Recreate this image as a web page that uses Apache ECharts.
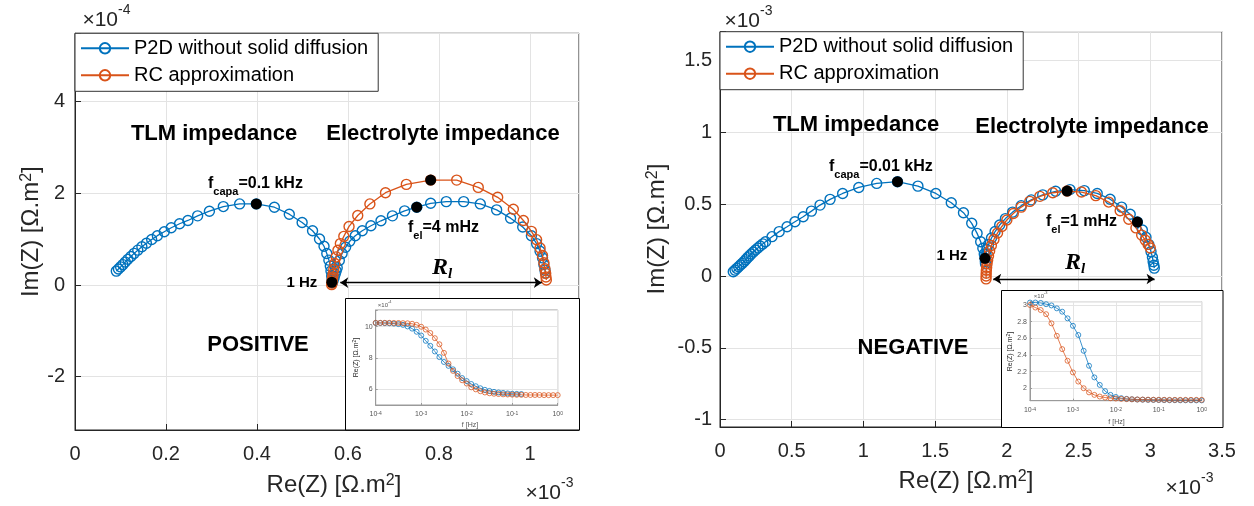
<!DOCTYPE html>
<html>
<head>
<meta charset="utf-8">
<script src="https://cdn.jsdelivr.net/npm/echarts@6/dist/echarts.min.js"></script>
<style>
html,body{margin:0;padding:0;background:#fff;}
#chart{width:1254px;height:506px;}
</style>
</head>
<body>
<div id="chart"></div>
<script>
// ---------- Nyquist data, positive electrode (Re in 1e-3 Ω.m², Im in 1e-4 Ω.m²) ----------
const posP2dRe = [0.0908,0.0955,0.1003,0.1052,0.1105,0.1163,0.1228,0.1300,0.1380,0.1470,0.1570,0.1685,0.1810,0.1962,0.2115,0.2298,0.2481,0.2695,0.2954,0.3260,0.3618,0.3985,0.4382,0.4710,0.4992,0.5221,0.5374,0.5473,0.5534,0.5580,0.5611,0.5626,0.5641,0.5649,0.5655,
  0.5672,0.5695,0.5718,0.5740,0.5763,0.5809,0.5870,0.5947,0.6038,0.6160,0.6313,0.6504,0.6725,0.6977,0.7244,0.7511,0.7817,0.8160,0.8542,0.8908,0.9267,0.9573,0.9840,1.0031,1.0145,1.0221,1.0275,1.0305,1.0328,1.0340];
const posP2dIm = [0.303,0.348,0.395,0.445,0.500,0.560,0.622,0.690,0.760,0.835,0.912,0.992,1.076,1.162,1.249,1.336,1.408,1.509,1.610,1.711,1.769,1.769,1.697,1.545,1.365,1.184,1.004,0.845,0.686,0.542,0.412,0.303,0.195,0.110,0.050,
  0.100,0.165,0.235,0.305,0.375,0.534,0.686,0.823,0.953,1.076,1.184,1.292,1.401,1.509,1.617,1.697,1.783,1.819,1.819,1.769,1.639,1.458,1.264,1.076,0.903,0.736,0.592,0.448,0.325,0.260];
const posRcRe = [0.5641,0.5646,0.5651,0.5656,0.5664,0.5672,0.5687,0.5710,0.5740,0.5779,0.5832,0.5908,0.6023,0.6214,0.6481,0.6824,0.7282,0.7817,0.8389,0.8863,0.9290,0.9634,0.9855,1.0031,1.0145,1.0221,1.0275,1.0305,1.0328,1.0344,1.0351,1.0359];
const posRcIm = [0.007,0.040,0.075,0.120,0.175,0.235,0.339,0.469,0.614,0.758,0.903,1.061,1.278,1.516,1.769,2.014,2.195,2.289,2.289,2.130,1.913,1.653,1.408,1.170,0.989,0.809,0.643,0.484,0.354,0.253,0.173,0.108];
// highlighted frequencies: f_capa, 1 Hz, f_el, RC apex
const posMarkRe = [0.3985, 0.5645, 0.7511, 0.7817];
const posMarkIm = [1.769, 0.060, 1.697, 2.289];
// electrolyte resistance span R_l
const posRlRe = [0.583, 1.026];
const posRlIm = [0.05, 0.05];

// ---------- Nyquist data, negative electrode (Re and Im in 1e-3 Ω.m²) ----------
const negP2dRe = [0.0925,0.1050,0.1175,0.1300,0.1425,0.1550,0.1675,0.1800,0.1925,0.2050,0.2175,0.2325,0.2475,0.2640,0.2800,0.2990,0.3175,0.3625,0.4125,0.4675,0.5225,0.5800,0.6375,0.6975,0.7675,0.8550,0.9675,1.0925,1.2375,1.3800,1.5050,1.6125,1.6975,1.7550,1.7925,1.8175,1.8325,1.8425,1.8475,1.8500,1.8510,
  1.8550,1.8600,1.8720,1.8930,1.9180,1.9500,1.9900,2.0400,2.1000,2.1700,2.2500,2.3400,2.4400,2.5400,2.6300,2.7200,2.8000,2.8600,2.9100,2.9450,2.9700,2.9900,3.0050,3.0150,3.0200,3.0250,3.0280];
const negP2dIm = [0.030,0.041,0.053,0.065,0.077,0.088,0.100,0.114,0.128,0.140,0.153,0.167,0.181,0.195,0.209,0.224,0.239,0.274,0.309,0.343,0.378,0.413,0.452,0.494,0.534,0.575,0.617,0.645,0.657,0.626,0.575,0.510,0.441,0.367,0.297,0.239,0.193,0.153,0.123,0.100,0.085,
  0.150,0.185,0.220,0.265,0.310,0.355,0.400,0.445,0.490,0.530,0.565,0.590,0.602,0.595,0.575,0.535,0.480,0.430,0.376,0.320,0.270,0.220,0.170,0.130,0.100,0.075,0.055];
const negRcRe = [1.8550,1.8555,1.8560,1.8570,1.8590,1.8620,1.8660,1.8720,1.8800,1.8920,1.9100,1.9350,1.9650,2.0000,2.0450,2.1000,2.1600,2.2300,2.3200,2.4200,2.5200,2.6200,2.7100,2.7900,2.8500,2.9000,2.9400,2.9650,2.9850,3.0000];
const negRcIm = [-0.020,0.000,0.020,0.040,0.060,0.085,0.110,0.140,0.175,0.212,0.255,0.300,0.345,0.390,0.435,0.480,0.520,0.555,0.580,0.592,0.585,0.560,0.515,0.455,0.395,0.335,0.285,0.250,0.220,0.195];
const negMarkRe = [1.2375, 1.8475, 2.9100, 2.4200];
const negMarkIm = [0.657, 0.123, 0.376, 0.592];
const negRlRe = [1.905, 3.030];
const negRlIm = [-0.021, -0.021];

// ---------- Re(Z) versus frequency (insets) ----------
const posFreq = [0.0001,0.0001259,0.0001585,0.0001995,0.0002512,0.0003162,0.0003981,0.0005012,0.000631,0.0007943,
  0.001,0.001259,0.001585,0.001995,0.002512,0.003162,0.003981,0.005012,0.00631,0.007943,
  0.01,0.01259,0.01585,0.01995,0.02512,0.03162,0.03981,0.05012,0.0631,0.07943,
  0.1,0.1259,0.1585,0.1995,0.2512,0.3162,0.3981,0.5012,0.631,0.7943,1];
// Re(Z) in 1e-4 Ω.m²
const posReP2d = [10.24,10.24,10.23,10.22,10.20,10.17,10.12,10.02,9.88,9.68,
  9.44,9.10,8.78,8.42,8.06,7.75,7.50,7.28,7.00,6.72,
  6.53,6.34,6.20,6.07,5.97,5.90,5.84,5.80,5.77,5.74,
  5.72,5.71,5.70];
const posReRc = [10.25,10.25,10.25,10.25,10.24,10.24,10.23,10.22,10.19,10.12,
  10.00,9.82,9.60,9.27,8.88,8.33,7.65,7.18,6.85,6.58,
  6.37,6.13,6.00,5.88,5.80,5.75,5.72,5.70,5.68,5.67,
  5.66,5.65,5.65,5.64,5.64,5.64,5.64,5.63,5.63,5.63,5.63];

const negFreq = [0.0001,0.0001334,0.0001778,0.0002371,0.0003162,0.0004217,0.0005623,0.0007499,
  0.001,0.001334,0.001778,0.002371,0.003162,0.004217,0.005623,0.007499,
  0.01,0.01334,0.01778,0.02371,0.03162,0.04217,0.05623,0.07499,
  0.1,0.1334,0.1778,0.2371,0.3162,0.4217,0.5623,0.7499,1];
// Re(Z) in 1e-3 Ω.m²
const negReP2d = [3.030,3.030,3.025,3.010,2.995,2.960,2.920,2.840,
  2.750,2.640,2.450,2.270,2.130,2.040,1.965,1.920,
  1.895,1.880,1.872,1.867,1.864,1.862,1.860,1.859,
  1.858,1.857,1.856,1.856,1.855,1.855,1.855,1.854,1.854];
const negReRc = [3.000,2.970,2.940,2.890,2.780,2.630,2.470,2.330,
  2.190,2.080,2.000,1.950,1.920,1.900,1.888,1.880,
  1.876,1.872,1.869,1.867,1.865,1.864,1.863,1.862,
  1.861,1.861,1.860,1.860,1.860,1.860,1.860,1.860,1.860];

// minor grid positions of the log frequency axes
const minorFreq = [2e-4,3e-4,4e-4,5e-4,6e-4,7e-4,8e-4,9e-4,
  2e-3,3e-3,4e-3,5e-3,6e-3,7e-3,8e-3,9e-3,
  2e-2,3e-2,4e-2,5e-2,6e-2,7e-2,8e-2,9e-2,
  2e-1,3e-1,4e-1,5e-1,6e-1,7e-1,8e-1,9e-1];

const NAME_P2D = 'P2D without solid diffusion';
const NAME_RC = 'RC approximation';

// ---------- styling ----------
const BLUE = '#0072BD', ORANGE = '#D95319', INK = '#262626';
const FONT = '"Liberation Sans", Arial, Helvetica, sans-serif';
const SERIF = '"Liberation Serif", "DejaVu Serif", serif';

function zip(a, b) { return a.map((v, i) => [v, b[i]]); }
function onStep(step) {
  return function (v) {
    const k = v / step;
    if (Math.abs(k - Math.round(k)) > 1e-6) return '';
    return String(+(Math.round(k) * step).toFixed(4));
  };
}
function decade(v) {
  const l = Math.log10(v), e = Math.round(l);
  if (Math.abs(l - e) > 1e-6) return '';
  return '{b|10}{s|' + e + '}';
}

function mainAxis(gridIndex, extra) {
  return Object.assign({
    type: 'value', gridIndex: gridIndex, z: 1,
    axisLine: { show: true, onZero: false, lineStyle: { color: INK, width: 1 } },
    axisTick: { show: true, inside: true, length: 6, lineStyle: { color: INK } },
    splitLine: { show: true, lineStyle: { color: '#e3e3e3', width: 1 } },
    axisLabel: { color: INK, fontSize: 20, fontFamily: FONT }
  }, extra);
}
function insetAxis(gridIndex, extra) {
  return Object.assign({
    gridIndex: gridIndex, z: 11,
    axisLine: { show: true, onZero: false, lineStyle: { color: '#9a9a9a', width: 1 } },
    axisTick: { show: true, inside: true, length: 2, lineStyle: { color: '#9a9a9a' } },
    splitLine: { show: true, lineStyle: { color: '#e4e4e4', width: 1 } },
    axisLabel: { color: '#555', fontSize: 7, fontFamily: FONT }
  }, extra);
}
const decadeLabel = {
  formatter: decade, margin: 6, color: '#555', fontFamily: FONT,
  rich: {
    b: { fontSize: 7, fontFamily: FONT, color: '#555', verticalAlign: 'bottom', lineHeight: 7, padding: [3, 0, 0, 0] },
    s: { fontSize: 5, fontFamily: FONT, color: '#555', verticalAlign: 'top', lineHeight: 5 }
  }
};

function nyquist(name, re, im, color, xi, z) {
  return {
    type: 'line', name: name, xAxisIndex: xi, yAxisIndex: xi,
    data: zip(re, im), showAllSymbol: true,
    symbol: 'circle', symbolSize: 10, z: z,
    lineStyle: { color: color, width: 1.3 },
    itemStyle: { color: 'rgba(255,255,255,0)', borderColor: color, borderWidth: 1.4 },
    emphasis: { disabled: true }, silent: true
  };
}
function insetLine(name, freq, vals, color, xi) {
  return {
    type: 'line', name: name, xAxisIndex: xi, yAxisIndex: xi,
    data: zip(freq.slice(0, vals.length), vals), showAllSymbol: true,
    symbol: 'circle', symbolSize: 5, z: 13,
    lineStyle: { color: color, width: 1, opacity: 0.75 },
    itemStyle: { color: 'rgba(255,255,255,0)', borderColor: color, borderWidth: 1, opacity: 0.75 },
    emphasis: { disabled: true }, silent: true
  };
}
function marks(re, im, xi) {
  return {
    type: 'scatter', name: 'highlighted frequencies', xAxisIndex: xi, yAxisIndex: xi,
    data: zip(re, im), symbol: 'circle', symbolSize: 11, z: 6,
    itemStyle: { color: '#000', opacity: 1 }, emphasis: { disabled: true }, silent: true
  };
}
function span(re, im, xi) {
  return {
    type: 'lines', coordinateSystem: 'cartesian2d', xAxisIndex: xi, yAxisIndex: xi,
    data: [{ coords: zip(re, im) }], symbol: ['arrow', 'arrow'], symbolSize: 8, z: 5,
    lineStyle: { color: '#000', width: 1.3, opacity: 1 }, silent: true
  };
}
function minorGrid(xi) {
  return {
    type: 'line', name: 'minor grid', xAxisIndex: xi, yAxisIndex: xi, data: [], z: 11, silent: true,
    markLine: {
      silent: true, symbol: 'none', label: { show: false }, animation: false,
      lineStyle: { color: '#f1f1f1', width: 1, type: 'solid' },
      data: minorFreq.map(v => ({ xAxis: v }))
    }
  };
}

// ---------- text helpers ----------
function T(x, y, text, o) {
  o = o || {};
  const style = {
    text: text, fill: o.fill || '#000', fontFamily: o.family || FONT, fontSize: o.size || 20,
    fontWeight: o.weight || 'normal', fontStyle: o.style || 'normal',
    align: o.align || 'left', verticalAlign: o.va || 'middle'
  };
  if (o.rich) style.rich = o.rich;
  return { type: 'text', x: x, y: y, z: o.z || 7, rotation: o.rot || 0, silent: true, style: style };
}
function subLabel(x, y, main, sub, rest) {
  return T(x, y - 8, '{m|' + main + '}{s|' + sub + '}{m|' + rest + '}', {
    va: 'top',
    rich: {
      m: { fontSize: 16, fontWeight: 'bold', fontFamily: FONT, fill: '#000', lineHeight: 16, verticalAlign: 'top' },
      s: { fontSize: 11, fontWeight: 'bold', fontFamily: FONT, fill: '#000', lineHeight: 11, verticalAlign: 'top', padding: [11, 0, 0, 0] }
    }
  });
}
function rl(x, y) {
  return T(x, y - 12, '{r|R}{l|l}', {
    align: 'center', va: 'top',
    rich: {
      r: { fontSize: 24, fontStyle: 'italic', fontWeight: 'bold', fontFamily: SERIF, fill: '#000', lineHeight: 24, verticalAlign: 'top' },
      l: { fontSize: 15, fontStyle: 'italic', fontWeight: 'bold', fontFamily: SERIF, fill: '#000', lineHeight: 15, verticalAlign: 'top', padding: [11, 0, 0, 0] }
    }
  });
}
function unitLabel(x, y, head, size, rot, z) {
  const s = Math.round(size * 0.66);
  return T(x, y, '{b|' + head + ' [Ω.m}{s|2}{b|]}', {
    align: 'center', va: 'middle', rot: rot || 0, z: z || 7,
    rich: {
      b: { fontSize: size, fontFamily: FONT, fill: INK, lineHeight: size, verticalAlign: 'bottom', padding: [Math.round(size * 0.2), 0, 0, 0] },
      s: { fontSize: s, fontFamily: FONT, fill: INK, lineHeight: s, verticalAlign: 'top' }
    }
  });
}
function power(xRight, y, exp, size, z, fill) {
  return [
    T(xRight, y, '×10', { align: 'right', size: size, fill: fill || INK, z: z }),
    T(xRight, y - size * 0.45, exp, { align: 'left', size: Math.round(size * 0.68), fill: fill || INK, z: z })
  ];
}

const chart = echarts.init(document.getElementById('chart'), null, { renderer: 'canvas' });

const legendBase = {
  orient: 'vertical', data: [NAME_P2D, NAME_RC], selectedMode: false,
  backgroundColor: '#fff', borderColor: '#333', borderWidth: 1, borderRadius: 0,
  padding: [4, 10, 5, 5], itemWidth: 48, itemHeight: 13, itemGap: 5,
  textStyle: { fontSize: 20, fontFamily: FONT, color: '#000', lineHeight: 22 }, z: 6
};

const option = {
  animation: false,
  backgroundColor: '#fff',
  grid: [
    { left: 75, top: 33.3, width: 504, height: 396.7, show: true, borderColor: INK, borderWidth: 1, z: 1, containLabel: false, outerBoundsMode: 'none' },
    { left: 720, top: 31.7, width: 502, height: 395.3, show: true, borderColor: INK, borderWidth: 1, z: 1, containLabel: false, outerBoundsMode: 'none' },
    { left: 375.7, top: 310, width: 182, height: 95, show: true, borderColor: '#9a9a9a', borderWidth: 1, backgroundColor: '#fff', z: 11, containLabel: false, outerBoundsMode: 'none' },
    { left: 1030, top: 301.7, width: 171.7, height: 99, show: true, borderColor: '#9a9a9a', borderWidth: 1, backgroundColor: '#fff', z: 11, containLabel: false, outerBoundsMode: 'none' }
  ],
  xAxis: [
    mainAxis(0, { min: 0, max: 1.1077, interval: 0.2, axisLabel: { color: INK, fontSize: 20, fontFamily: FONT, margin: 14, formatter: onStep(0.2) } }),
    mainAxis(1, { min: 0, max: 3.5, interval: 0.5, axisLabel: { color: INK, fontSize: 20, fontFamily: FONT, margin: 14, formatter: onStep(0.5) } }),
    insetAxis(2, { type: 'log', logBase: 10, min: 0.0001, max: 1, axisLabel: decadeLabel }),
    insetAxis(3, { type: 'log', logBase: 10, min: 0.0001, max: 1, axisLabel: decadeLabel })
  ],
  yAxis: [
    mainAxis(0, { min: -3.164, max: 5.492, splitNumber: 5, axisLabel: { color: INK, fontSize: 20, fontFamily: FONT, margin: 10, formatter: onStep(2) } }),
    mainAxis(1, { min: -1.052, max: 1.702, splitNumber: 5, axisLabel: { color: INK, fontSize: 20, fontFamily: FONT, margin: 8, formatter: onStep(0.5) } }),
    insetAxis(2, { type: 'value', min: 5, max: 11.07, splitNumber: 3, axisLabel: { color: '#555', fontSize: 7, fontFamily: FONT, margin: 3, formatter: onStep(2) } }),
    insetAxis(3, { type: 'value', min: 1.85, max: 3.04, splitNumber: 6, axisLabel: { color: '#555', fontSize: 7, fontFamily: FONT, margin: 3, formatter: onStep(0.2) } })
  ],
  legend: [
    Object.assign({ left: 75, top: 33.3 }, legendBase),
    Object.assign({ left: 720, top: 31.7 }, legendBase)
  ],
  series: [
    nyquist(NAME_P2D, posP2dRe, posP2dIm, BLUE, 0, 3),
    nyquist(NAME_RC, posRcRe, posRcIm, ORANGE, 0, 4),
    span(posRlRe, posRlIm, 0),
    marks(posMarkRe, posMarkIm, 0),
    nyquist(NAME_P2D, negP2dRe, negP2dIm, BLUE, 1, 3),
    nyquist(NAME_RC, negRcRe, negRcIm, ORANGE, 1, 4),
    span(negRlRe, negRlIm, 1),
    marks(negMarkRe, negMarkIm, 1),
    minorGrid(2),
    insetLine('P2D Re(Z), positive', posFreq, posReP2d, BLUE, 2),
    insetLine('RC Re(Z), positive', posFreq, posReRc, ORANGE, 2),
    minorGrid(3),
    insetLine('P2D Re(Z), negative', negFreq, negReP2d, BLUE, 3),
    insetLine('RC Re(Z), negative', negFreq, negReRc, ORANGE, 3)
  ],
  graphic: { elements: [
    // inset frames
    { type: 'rect', z: 10, silent: true, shape: { x: 345.5, y: 298.5, width: 234, height: 131.5 }, style: { fill: '#fff', stroke: '#000', lineWidth: 1 } },
    { type: 'rect', z: 10, silent: true, shape: { x: 1001.5, y: 290.5, width: 221.5, height: 137 }, style: { fill: '#fff', stroke: '#000', lineWidth: 1 } },

    // axis titles
    unitLabel(31, 231.7, 'Im(Z)', 24, Math.PI / 2),
    unitLabel(334, 485, 'Re(Z)', 24, 0),
    unitLabel(657, 229, 'Im(Z)', 24, Math.PI / 2),
    unitLabel(966, 481, 'Re(Z)', 24, 0),
    ...power(118, 20, '-4', 21),
    ...power(760, 21, '-3', 21),
    ...power(561, 493, '-3', 21),
    ...power(1201, 488, '-3', 21),

    // positive electrode annotations
    T(214, 133.5, 'TLM impedance', { align: 'center', size: 22, weight: 'bold' }),
    T(443, 133.5, 'Electrolyte impedance', { align: 'center', size: 22, weight: 'bold' }),
    subLabel(208, 183.3, 'f', 'capa', '=0.1 kHz'),
    subLabel(408, 227.7, 'f', 'el', '=4 mHz'),
    T(286.5, 282.7, '1 Hz', { size: 15, weight: 'bold' }),
    rl(442, 268),
    T(258, 345, 'POSITIVE', { align: 'center', size: 22, weight: 'bold' }),

    // negative electrode annotations
    T(856, 124.5, 'TLM impedance', { align: 'center', size: 22, weight: 'bold' }),
    T(1092, 126.5, 'Electrolyte impedance', { align: 'center', size: 22, weight: 'bold' }),
    subLabel(829, 166.7, 'f', 'capa', '=0.01 kHz'),
    subLabel(1046, 221.7, 'f', 'el', '=1 mHz'),
    T(936.5, 256, '1 Hz', { size: 15, weight: 'bold' }),
    rl(1075, 263),
    T(913, 348, 'NEGATIVE', { align: 'center', size: 22, weight: 'bold' }),

    // inset labels
    unitLabel(356, 357.5, 'Re(Z)', 7, Math.PI / 2, 15),
    T(470, 425.5, 'f [Hz]', { align: 'center', size: 7, fill: '#555', z: 15 }),
    ...power(388, 305, '-4', 6, 15, '#555'),
    unitLabel(1010, 351.5, 'Re(Z)', 7, Math.PI / 2, 15),
    T(1116.5, 422.5, 'f [Hz]', { align: 'center', size: 7, fill: '#555', z: 15 }),
    ...power(1044, 296, '-3', 6, 15, '#555')
  ] }
};

chart.setOption(option);
</script>
</body>
</html>
